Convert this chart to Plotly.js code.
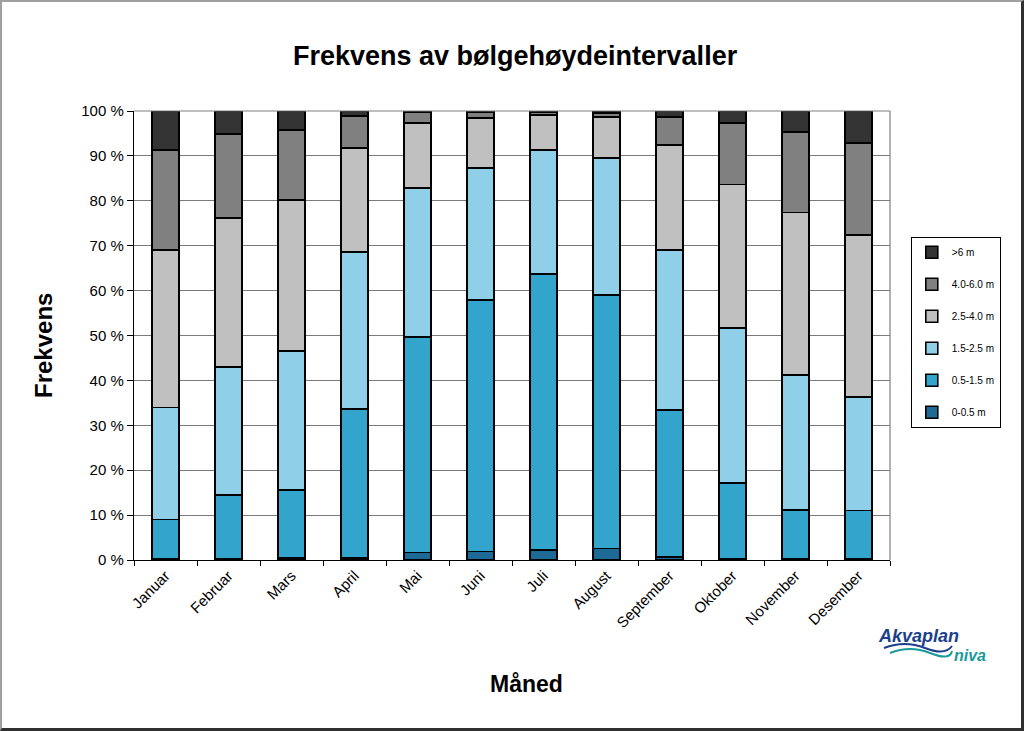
<!DOCTYPE html>
<html>
<head>
<meta charset="utf-8">
<script src="https://cdn.plot.ly/plotly-3.0.1.min.js"></script>
<style>
html,body{margin:0;padding:0;background:#fff;}
#wrap{position:relative;width:1024px;height:731px;}
#chart{width:1024px;height:731px;}
#frame{position:absolute;left:0;top:0;width:1024px;height:731px;box-sizing:border-box;
border-left:2px solid #a0a0a0;border-top:2px solid #a0a0a0;border-right:3px solid #303030;border-bottom:3px solid #303030;pointer-events:none;}
</style>
</head>
<body>
<div id="wrap"><div id="chart"></div><div id="frame"></div></div>
<script>
const months = ["Januar","Februar","Mars","April","Mai","Juni","Juli","August","September","Oktober","November","Desember"];
const seriesNames = ["0-0.5 m","0.5-1.5 m","1.5-2.5 m","2.5-4.0 m","4.0-6.0 m",">6 m"];
const h0_05  = [0.3, 0.3, 0.5, 0.4, 1.7, 1.9, 2.2, 2.6, 0.7, 0.2, 0.2, 0.2];
const h05_15 = [8.7, 14.2, 15.1, 33.2, 48.0, 56.0, 61.5, 56.4, 32.7, 16.9, 10.9, 10.8];
const h15_25 = [25.0, 28.5, 30.9, 35.0, 33.2, 29.4, 27.6, 30.5, 35.6, 34.6, 30.1, 25.3];
const h25_40 = [35.0, 33.2, 33.7, 23.2, 14.4, 11.1, 7.8, 9.2, 23.4, 31.9, 36.2, 36.1];
const h40_60 = [22.3, 18.7, 15.6, 7.1, 2.5, 1.4, 0.7, 0.9, 6.3, 13.7, 17.9, 20.5];
const h6plus = [8.7, 5.1, 4.2, 1.1, 0.2, 0.2, 0.2, 0.4, 1.3, 2.7, 4.7, 7.1];
const yTicks = [0,10,20,30,40,50,60,70,80,90,100];
const yTickLabels = ["0 %","10 %","20 %","30 %","40 %","50 %","60 %","70 %","80 %","90 %","100 %"];

const seriesData = [h0_05, h05_15, h15_25, h25_40, h40_60, h6plus];
const colors = ["#1d6a97","#33a4cb","#8fd0e8","#c0c0c0","#808080","#333333"];

const traces = seriesData.map((vals, i) => ({
  type: "bar",
  name: seriesNames[i],
  x: months,
  y: vals,
  legendgroup: "g" + i,
  legendrank: 100 - i,
  marker: {color: colors[i], line: {color: "#000000", width: 1.6}},
  hoverinfo: "x+y+name"
}));

const FONT = "Liberation Sans, Arial, sans-serif";
// plot area in pixels: left 134, right 890, top 111, bottom 560
const px = x => (x - 134) / 756;
const py = y => (560 - y) / 449;

const layout = {
  width: 1024, height: 731,
  barmode: "stack",
  bargap: 0.58,
  paper_bgcolor: "#ffffff",
  plot_bgcolor: "#ffffff",
  font: {family: FONT, color: "#000"},
  margin: {l: 134, r: 134, t: 111, b: 171, autoexpand: false},
  title: {text: "<b>Frekvens av bølgehøydeintervaller</b>", font: {size: 27, family: FONT, color: "#000"},
          x: 0.503, xanchor: "center", y: 1 - 56/731, yanchor: "middle"},
  xaxis: {
    type: "category",
    tickangle: -45,
    tickfont: {size: 15},
    tickson: "boundaries",
    ticks: "outside", ticklen: 5, tickcolor: "#000",
    showline: true, linecolor: "#000", linewidth: 1.2,
    mirror: false,
    showgrid: false,
    automargin: false
  },
  yaxis: {
    range: [0, 100],
    tickmode: "array",
    tickvals: yTicks,
    ticktext: yTickLabels,
    tickfont: {size: 15},
    ticks: "outside", ticklen: 6, tickcolor: "#000",
    showline: true, linecolor: "#000", linewidth: 1.2,
    showgrid: true, gridcolor: "#7a7a7a", gridwidth: 1,
    zeroline: false,
    automargin: false
  },
  legend: {
    x: 1.0275, xanchor: "left",
    y: 0.72, yanchor: "top",
    traceorder: "grouped",
    tracegroupgap: 13,
    bordercolor: "#000", borderwidth: 1, bgcolor: "#fff",
    font: {size: 10, color: "#000"},
    itemwidth: 30
  },
  shapes: [
    {type: "line", xref: "paper", yref: "paper", x0: 0, x1: 1, y0: 1, y1: 1, line: {color: "#808080", width: 1.2}},
    {type: "line", xref: "paper", yref: "paper", x0: 1, x1: 1, y0: 0, y1: 1, line: {color: "#808080", width: 1.2}},
    {type: "path", xref: "paper", yref: "paper",
     path: `M ${px(884)},${py(648)} Q ${px(905)},${py(640)} ${px(925)},${py(648)} T ${px(952)},${py(646)}`,
     line: {color: "#1b3f8c", width: 2}},
    {type: "path", xref: "paper", yref: "paper",
     path: `M ${px(890)},${py(653)} Q ${px(910)},${py(645)} ${px(930)},${py(653)} T ${px(952)},${py(651)}`,
     line: {color: "#1a9a9a", width: 2}}
  ],
  annotations: [
    {xref: "paper", yref: "paper", x: px(526), y: py(684), xanchor: "center", yanchor: "middle", showarrow: false,
     text: "<b>Måned</b>", font: {size: 23, color: "#000", family: FONT}},
    {xref: "paper", yref: "paper", x: px(43), y: py(346), xanchor: "center", yanchor: "middle", showarrow: false, textangle: -90,
     text: "<b>Frekvens</b>", font: {size: 24, color: "#000", family: FONT}},
    {xref: "paper", yref: "paper", x: px(876), y: py(636), xanchor: "left", yanchor: "middle", showarrow: false,
     text: "<b><i>Akvaplan</i></b>", font: {size: 18, color: "#1b3f8c", family: FONT}},
    {xref: "paper", yref: "paper", x: px(952), y: py(655), xanchor: "left", yanchor: "middle", showarrow: false,
     text: "<b><i>niva</i></b>", font: {size: 16, color: "#199a9a", family: FONT}}
  ]
};

Plotly.newPlot("chart", traces, layout, {displayModeBar: false, staticPlot: true});
</script>
</body>
</html>
